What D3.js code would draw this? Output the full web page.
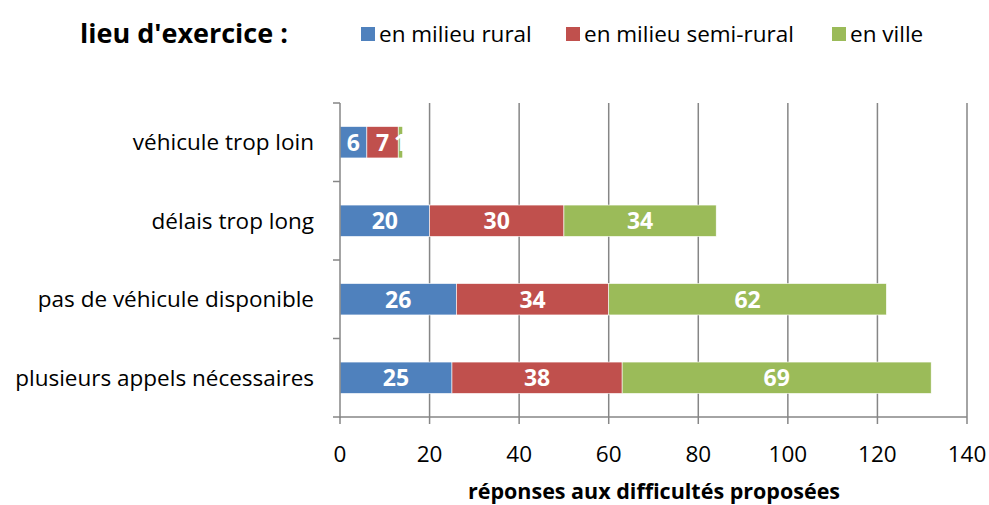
<!DOCTYPE html>
<html><head><meta charset="utf-8">
<script src="https://cdn.jsdelivr.net/npm/d3@7"></script>
<style>body{margin:0;background:#fff}svg{display:block}text{font-family:"Open Sans",sans-serif}</style>
</head><body><svg id="c" width="989" height="505"></svg>
<script>
const categories = ["véhicule trop loin","délais trop long","pas de véhicule disponible","plusieurs appels nécessaires"];
const seriesNames = ["en milieu rural","en milieu semi-rural","en ville"];
const rural = [6,20,26,25];
const semiRural = [7,30,34,38];
const ville = [1,34,62,69];
const xTicks = [0,20,40,60,80,100,120,140];
const colors = ["#4F81BD","#C0504D","#9BBB59"];

const svg = d3.select("#c");
const M = {l:340, r:967, t:103, b:417};
const x = d3.scaleLinear().domain([0,140]).range([M.l,M.r]);
const y = d3.scaleBand().domain(categories).range([M.t,M.b]).paddingInner(0.6).paddingOuter(0.3);
const yb = d3.scaleBand().domain(categories).range([M.t,M.b]);

// gridlines
svg.append("g").selectAll("line").data(xTicks.slice(1)).join("line")
  .attr("x1",d=>x(d)).attr("x2",d=>x(d)).attr("y1",M.t).attr("y2",M.b)
  .attr("stroke","#868686").attr("stroke-width",1.5);

const table = categories.map((c,i)=>({cat:c, vals:[rural[i],semiRural[i],ville[i]]}));
const stack = d3.stack().keys([0,1,2]).value((d,k)=>d.vals[k])(table);

const g = svg.append("g");
stack.forEach((layer,k)=>{
  g.selectAll(null).data(layer).join("rect")
    .attr("x",d=>x(d[0])).attr("width",d=>x(d[1])-x(d[0]))
    .attr("y",d=>y(d.data.cat)).attr("height",y.bandwidth())
    .attr("fill",colors[k]).attr("stroke","#fff").attr("stroke-width",0.6);
});
stack.forEach((layer,k)=>{
  g.selectAll(null).data(layer).join("text")
    .attr("x",d=>(x(d[0])+x(d[1]))/2).attr("y",d=>y(d.data.cat)+y.bandwidth()/2)
    .attr("dy","0.36em").attr("text-anchor","middle")
    .attr("fill","#fff").attr("font-weight","bold").attr("font-size",23)
    .text(d=>d.data.vals[k]);
});

// y axis
svg.append("line").attr("x1",M.l).attr("x2",M.l).attr("y1",M.t).attr("y2",M.b+1)
  .attr("stroke","#868686").attr("stroke-width",1.5);
const bounds = categories.map(c=>yb(c)).concat([M.b]);
svg.append("g").selectAll("line").data(bounds).join("line")
  .attr("x1",M.l-7).attr("x2",M.l).attr("y1",d=>d).attr("y2",d=>d)
  .attr("stroke","#868686").attr("stroke-width",1.5);
svg.append("g").selectAll("text").data(categories).join("text")
  .attr("x",314).attr("y",d=>yb(d)+yb.bandwidth()/2).attr("dy","0.36em")
  .attr("text-anchor","end").attr("font-size",22.5).attr("fill","#000").text(d=>d);

// x axis
svg.append("line").attr("x1",M.l).attr("x2",M.r).attr("y1",M.b).attr("y2",M.b)
  .attr("stroke","#868686").attr("stroke-width",1.5);
svg.append("g").selectAll("line").data(xTicks).join("line")
  .attr("x1",d=>x(d)).attr("x2",d=>x(d)).attr("y1",M.b).attr("y2",M.b+7)
  .attr("stroke","#868686").attr("stroke-width",1.5);
svg.append("g").selectAll("text").data(xTicks).join("text")
  .attr("x",d=>x(d)).attr("y",462).attr("text-anchor","middle")
  .attr("font-size",22.5).attr("fill","#000").text(d=>d);
svg.append("text").attr("x",654).attr("y",499).attr("text-anchor","middle")
  .attr("font-size",21.5).attr("font-weight","bold").text("réponses aux difficultés proposées");

// title + legend
svg.append("text").attr("x",80).attr("y",43).attr("font-size",27).attr("font-weight","bold")
  .text("lieu d'exercice :");
const legX = [361,566,832];
seriesNames.forEach((n,i)=>{
  svg.append("rect").attr("x",legX[i]).attr("y",27).attr("width",14).attr("height",14).attr("fill",colors[i]);
  svg.append("text").attr("x",legX[i]+18).attr("y",42).attr("font-size",22.5).text(n);
});
</script></body></html>
